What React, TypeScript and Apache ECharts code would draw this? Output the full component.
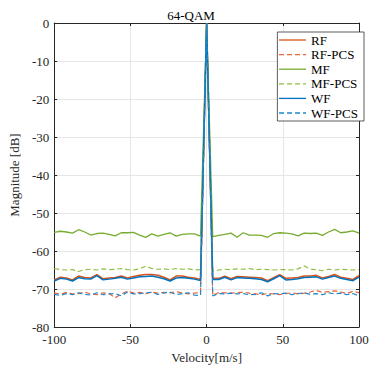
import React, { useEffect, useRef } from "react";
import * as echarts from "echarts";

const velocity: number[] = [
  -100, -96, -92, -88, -84, -80, -76, -72, -68, -64, -60, -56, -52, -48, -44, -40, -36, -32, -28, -24, -20, -16, -12, -8, -4,
  0, 4, 8, 12, 16, 20, 24, 28, 32, 36, 40, 44, 48, 52, 56, 60, 64, 68, 72, 76, 80, 84, 88, 92, 96, 100,
];

const rf: number[] = [
  -67.6, -66.9, -67.1, -67.6, -66.6, -67.0, -67.1, -66.2, -67.3, -67.1, -67.0, -66.6, -67.1, -66.7, -66.4, -66.2, -66.2, -66.4, -66.9, -67.6, -66.6, -66.6, -66.9, -67.1, -67.5,
  0, -67.1, -67.2, -66.6, -67.3, -66.7, -66.8, -66.9, -67.0, -67.1, -67.8, -67.0, -66.2, -67.2, -67.1, -67.0, -66.6, -66.6, -66.4, -67.1, -66.7, -66.2, -66.9, -67.2, -67.5, -66.5,
];

const rfPcs: number[] = [
  -71.0, -71.4, -70.9, -71.3, -71.2, -70.8, -71.3, -71.5, -71.0, -71.2, -72.3, -71.3, -70.6, -71.0, -70.9, -71.2, -70.8, -71.1, -70.9, -71.0, -70.7, -71.0, -71.3, -71.1, -71.0,
  0, -71.7, -70.9, -71.0, -71.1, -71.0, -70.8, -71.1, -71.3, -71.5, -71.2, -71.3, -71.5, -71.2, -71.0, -71.3, -71.1, -70.8, -70.4, -70.9, -70.7, -70.5, -70.8, -71.2, -70.6, -71.0,
];

const mf: number[] = [
  -55.1, -54.8, -55.0, -55.3, -54.4, -55.0, -55.8, -55.4, -55.3, -55.6, -56.0, -55.2, -55.2, -55.1, -55.8, -56.4, -55.5, -56.1, -55.6, -55.2, -56.1, -55.6, -55.5, -55.5, -56.1,
  0, -56.2, -55.9, -55.6, -55.3, -56.4, -55.2, -55.8, -55.8, -55.9, -56.4, -55.4, -55.2, -55.3, -55.5, -56.0, -55.3, -55.4, -55.3, -55.9, -55.0, -54.3, -55.2, -55.0, -54.7, -55.3,
];

const mfPcs: number[] = [
  -64.6, -64.9, -65.0, -64.9, -65.4, -64.9, -64.8, -65.0, -64.7, -64.9, -64.8, -64.6, -64.9, -65.0, -64.7, -64.0, -64.6, -64.8, -64.7, -64.9, -64.6, -64.8, -64.7, -65.0, -64.9,
  0, -65.3, -65.0, -64.8, -64.9, -64.7, -64.8, -64.6, -64.9, -64.8, -64.9, -65.0, -64.9, -64.9, -65.0, -64.7, -63.9, -64.8, -64.9, -65.2, -64.8, -65.0, -64.8, -64.9, -65.0, -64.9,
];

const wf: number[] = [
  -67.9, -67.2, -67.4, -67.9, -67.0, -67.3, -67.4, -66.5, -67.6, -67.4, -67.2, -66.9, -67.4, -67.1, -66.8, -66.7, -66.6, -66.9, -67.3, -67.9, -67.1, -67.0, -67.2, -67.4, -67.8,
  0, -67.5, -67.5, -66.9, -67.6, -67.0, -67.1, -67.2, -67.3, -67.5, -68.1, -67.3, -66.5, -67.6, -67.5, -67.3, -67.0, -66.9, -66.8, -67.4, -67.0, -66.6, -67.2, -67.5, -67.8, -66.9,
];

const wfPcs: number[] = [
  -71.4, -71.7, -71.2, -71.5, -71.0, -71.4, -71.6, -71.0, -71.5, -71.3, -71.2, -71.8, -70.8, -71.3, -71.2, -71.0, -70.9, -71.4, -71.0, -70.8, -71.5, -71.2, -71.0, -71.6, -71.7,
  0, -71.8, -71.2, -71.3, -71.1, -71.3, -71.2, -71.5, -71.4, -71.0, -71.8, -71.2, -71.3, -71.1, -71.5, -71.2, -71.0, -71.4, -71.2, -71.5, -71.0, -71.3, -71.1, -71.5, -71.2, -71.8,
];

const xTicks = { min: -100, max: 100, interval: 50 };
const yTicks = { min: -80, max: 0, interval: 10 };

const FONT = "Liberation Serif";
const AXIS_COLOR = "#262626";

function pairs(ys: number[]): number[][] {
  return velocity.map((v, i) => [v, ys[i]]);
}

export default function App() {
  const ref = useRef<HTMLDivElement>(null);

  useEffect(() => {
    if (!ref.current) return;
    const chart = echarts.init(ref.current, undefined, { renderer: "svg" });

    const mk = (name: string, data: number[], color: string, dashed: boolean, width: number) => ({
      name,
      type: "line",
      data: pairs(data),
      symbol: "none",
      showSymbol: false,
      clip: true,
      lineStyle: { color, width, type: dashed ? [5, 3] : "solid" },
      itemStyle: { color },
    });

    chart.setOption({
      animation: false,
      backgroundColor: "#ffffff",
      title: {
        text: "64-QAM",
        left: "center",
        top: 4,
        textStyle: { fontFamily: FONT, fontSize: 13, fontWeight: "normal", color: "#000" },
      },
      legend: {
        orient: "vertical",
        right: 18,
        top: 32,
        itemWidth: 27,
        itemHeight: 14,
        itemGap: 0.6,
        padding: [1, 6, 1, 1],
        backgroundColor: "#ffffff",
        borderColor: "#333333",
        borderWidth: 0.8,
        borderRadius: 0,
        itemStyle: { opacity: 0 },
        lineStyle: { width: 1.3, color: "inherit" },
        textStyle: { fontFamily: FONT, fontSize: 13, color: "#000", lineHeight: 14 },
        data: ["RF", "RF-PCS", "MF", "MF-PCS", "WF", "WF-PCS"],
      },
      grid: { left: 52, right: 23, top: 23, bottom: 47 },
      xAxis: [
        {
          type: "value",
          ...xTicks,
          name: "Velocity[m/s]",
          nameLocation: "middle",
          nameGap: 23,
          nameTextStyle: { fontFamily: FONT, fontSize: 13, color: AXIS_COLOR },
          axisLine: { show: true, onZero: false, lineStyle: { color: AXIS_COLOR, width: 1 } },
          axisTick: { show: true, inside: true, length: 3, lineStyle: { color: AXIS_COLOR } },
          axisLabel: { fontFamily: FONT, fontSize: 13, color: AXIS_COLOR, margin: 6 },
          splitLine: { show: true, lineStyle: { color: "#e6e6e6", width: 1 } },
        },
        {
          type: "value",
          ...xTicks,
          position: "top",
          axisLine: { show: true, onZero: false, lineStyle: { color: AXIS_COLOR, width: 1 } },
          axisTick: { show: true, inside: true, length: 3, lineStyle: { color: AXIS_COLOR } },
          axisLabel: { show: false },
          splitLine: { show: false },
        },
      ],
      yAxis: [
        {
          type: "value",
          ...yTicks,
          name: "Magnitude [dB]",
          nameLocation: "middle",
          nameGap: 25,
          nameTextStyle: { fontFamily: FONT, fontSize: 13, color: AXIS_COLOR },
          axisLine: { show: true, onZero: false, lineStyle: { color: AXIS_COLOR, width: 1 } },
          axisTick: { show: true, inside: true, length: 3, lineStyle: { color: AXIS_COLOR } },
          axisLabel: { fontFamily: FONT, fontSize: 13, color: AXIS_COLOR, margin: 5 },
          splitLine: { show: true, lineStyle: { color: "#e6e6e6", width: 1 } },
        },
        {
          type: "value",
          ...yTicks,
          position: "right",
          axisLine: { show: true, onZero: false, lineStyle: { color: AXIS_COLOR, width: 1 } },
          axisTick: { show: true, inside: true, length: 3, lineStyle: { color: AXIS_COLOR } },
          axisLabel: { show: false },
          splitLine: { show: false },
        },
      ],
      series: [
        mk("RF", rf, "#D95319", false, 1.5),
        mk("RF-PCS", rfPcs, "#E8663A", true, 1.2),
        mk("MF", mf, "#77AC30", false, 1.3),
        mk("MF-PCS", mfPcs, "#8CBF3F", true, 1.2),
        mk("WF", wf, "#0072BD", false, 1.5),
        mk("WF-PCS", wfPcs, "#1E88D0", true, 1.2),
      ],
    });

    return () => chart.dispose();
  }, []);

  return (
    <div
      ref={ref}
      style={{ position: "fixed", left: 0, top: 0, width: 382, height: 374, background: "#fff" }}
    />
  );
}
